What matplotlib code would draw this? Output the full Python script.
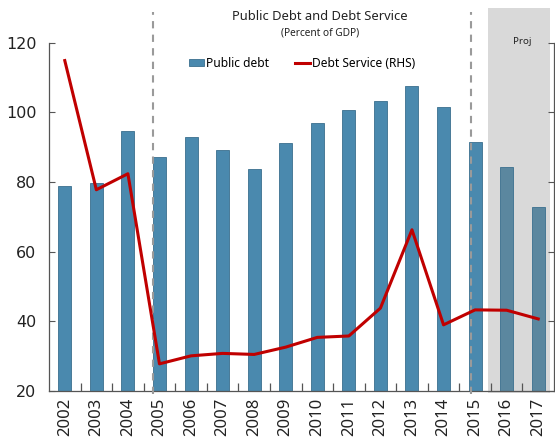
import matplotlib
matplotlib.use("Agg")
import matplotlib.pyplot as plt
from matplotlib.patches import Rectangle, Patch
from matplotlib.lines import Line2D
import numpy as np

years = ["2002", "2003", "2004", "2005", "2006", "2007", "2008", "2009",
         "2010", "2011", "2012", "2013", "2014", "2015", "2016", "2017"]
public_debt = [79.0, 79.6, 94.7, 87.3, 93.0, 89.1, 83.9, 91.1,
               96.9, 100.7, 103.3, 107.7, 101.6, 91.6, 84.2, 72.8]
debt_service = [114.9, 77.8, 82.4, 27.8, 30.1, 30.8, 30.5, 32.6,
                35.4, 35.8, 43.8, 66.3, 39.0, 43.3, 43.2, 40.7]
n_projected = 2
y_ticks = [20, 40, 60, 80, 100, 120]

BAR = "#4a89ae"
BAR_EDGE = "#3a6f8e"
BAR_PROJ = "#5b879f"
RED = "#c00000"

fig = plt.figure(figsize=(5.55, 4.45), dpi=100)
ax = fig.add_axes([49 / 555, 54 / 445, 505 / 555, 383 / 445])
x = np.arange(len(years))

colors = [BAR] * (len(years) - n_projected) + [BAR_PROJ] * n_projected
ax.bar(x, public_debt, width=0.41, bottom=0, color=colors,
       edgecolor=BAR_EDGE, linewidth=0.6, zorder=2)

ax.set_xlim(-0.5, len(years) - 0.5)
ax.set_ylim(20, 130)

# projection shading
ax.add_patch(Rectangle((13.4, 19.4), 1.96, 110.7, facecolor="#d9d9d9",
                       edgecolor="none", zorder=0, clip_on=False))
ax.text(14.5, 120.3, "Proj", ha="center", va="center", fontsize=7,
        family="Noto Sans", color="#222222")

# period separators
for xv in (2.78, 12.88):
    ax.plot([xv, xv], [19.0, 128.9], color="#9a9a9a", lw=1.5,
            ls=(0, (3.5, 3)), zorder=3, clip_on=False)

# debt service on the secondary axis, same scale
ax2 = ax.twinx()
ax2.set_ylim(ax.get_ylim())
ax2.plot(x, debt_service, color=RED, lw=2.2, solid_joinstyle="round", zorder=4)

for a in (ax, ax2):
    a.spines["top"].set_visible(False)
    a.spines["left"].set_bounds(20, 120)
    a.spines["right"].set_bounds(20, 120)
    for s in a.spines.values():
        s.set_color("#555555")
        s.set_linewidth(0.9)
ax.spines["right"].set_visible(False)
ax2.spines["left"].set_visible(False)
ax2.spines["bottom"].set_visible(False)

ax.set_yticks(y_ticks)
ax.set_yticklabels([str(v) for v in y_ticks], fontsize=11.5, family="DejaVu Sans",
                   color="#222222")
ax.tick_params(axis="y", direction="in", length=4, color="#555555", pad=9)
ax2.set_yticks(y_ticks)
ax2.set_yticklabels([])
ax2.tick_params(axis="y", direction="in", length=4, color="#555555")

ax.set_xticks(x)
ax.set_xticklabels(years, rotation=90, fontsize=12, family="Noto Sans",
                   color="#222222")
ax.tick_params(axis="x", which="major", length=0, pad=5)
ax.set_xticks(np.arange(0.5, len(years) - 1, 1.0), minor=True)
ax.tick_params(axis="x", which="minor", direction="in", length=6, width=0.9,
               color="#555555")

fig.text(0.576, 0.964, "Public Debt and Debt Service", ha="center", va="center",
         fontsize=9.3, family="Noto Sans", color="#222222")
fig.text(0.576, 0.925, "(Percent of GDP)", ha="center", va="center",
         fontsize=7.3, family="Noto Sans", color="#222222")

handles = [Patch(facecolor=BAR, edgecolor=BAR_EDGE, linewidth=0.6),
           Line2D([0], [0], color=RED, lw=2.2)]
fig.legend(handles, ["Public debt", "Debt Service (RHS)"], ncol=2,
           loc="center", bbox_to_anchor=(0.544, 0.858), frameon=False,
           prop={"family": "Noto Sans", "size": 8.6}, handlelength=1.3,
           handleheight=0.55, handletextpad=0.1, columnspacing=2.2)

fig.savefig("out.png", dpi=100)
